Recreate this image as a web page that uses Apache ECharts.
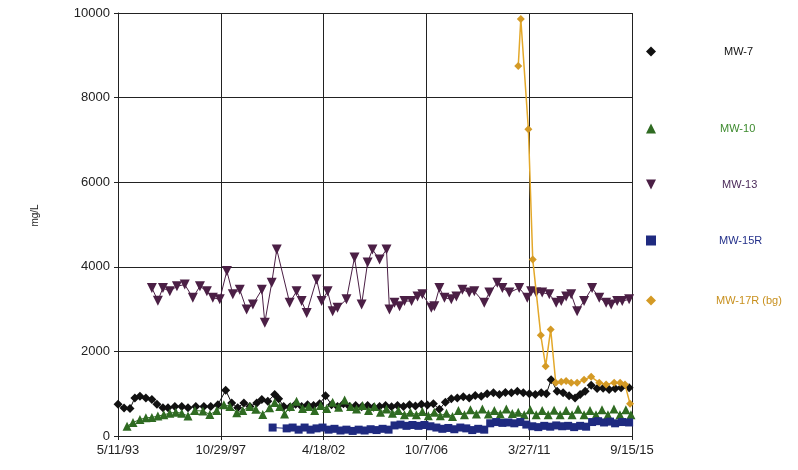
<!DOCTYPE html>
<html>
<head>
<meta charset="utf-8">
<script src="https://cdn.jsdelivr.net/npm/echarts@6/dist/echarts.min.js"></script>
<style>html,body{margin:0;padding:0;background:#fff;}#c{width:798px;height:470px;}</style>
</head>
<body>
<div id="c"></div>
<script>
// X tick labels (dates) and y axis
const tickLabels = ['5/11/93', '10/29/97', '4/18/02', '10/7/06', '3/27/11', '9/15/15'];
const xStartYear = 1993.357;   // 5/11/93
const xEndYear = 2015.705;     // 9/15/15
const seriesNames = ['MW-7', 'MW-10', 'MW-13', 'MW-15R', 'MW-17R (bg)'];

// MW-7 : decimal year / mg/L
const mw7Years = [1993.36,1993.62,1993.88,1994.09,1994.31,1994.57,1994.83,1995.05,1995.31,1995.53,1995.83,1996.13,1996.40,1996.74,1997.09,1997.39,1997.70,1998.04,1998.30,1998.56,1998.83,1999.09,1999.39,1999.61,1999.87,2000.17,2000.34,2000.56,2000.82,2001.08,2001.34,2001.60,2001.86,2002.12,2002.38,2002.64,2002.90,2003.16,2003.42,2003.69,2003.95,2004.21,2004.47,2004.73,2004.99,2005.25,2005.51,2005.77,2006.03,2006.29,2006.55,2006.81,2007.07,2007.33,2007.59,2007.85,2008.11,2008.37,2008.63,2008.89,2009.15,2009.41,2009.68,2009.94,2010.20,2010.46,2010.72,2010.98,2011.24,2011.50,2011.76,2011.98,2012.19,2012.45,2012.71,2012.97,2013.23,2013.45,2013.67,2013.93,2014.19,2014.45,2014.71,2014.97,2015.23,2015.58];
const mw7Values = [750,660,650,900,940,900,860,750,670,670,700,700,670,700,700,700,740,1080,780,670,780,700,780,860,820,980,880,700,680,750,700,740,720,760,950,740,700,760,700,720,690,720,680,700,720,690,720,700,740,710,750,730,760,630,800,880,900,930,900,960,940,1000,1020,980,1030,1020,1060,1020,1000,980,1020,1000,1330,1060,1020,950,900,980,1060,1200,1120,1130,1100,1120,1140,1140];

// MW-10
const mw10Years = [1993.75,1994.01,1994.31,1994.57,1994.83,1995.09,1995.35,1995.61,1995.87,1996.13,1996.40,1996.70,1997.05,1997.35,1997.65,1997.96,1998.22,1998.52,1998.78,1999.09,1999.35,1999.65,1999.95,2000.17,2000.39,2000.60,2000.86,2001.12,2001.38,2001.65,2001.91,2002.17,2002.43,2002.69,2002.95,2003.21,2003.47,2003.73,2003.99,2004.25,2004.51,2004.77,2005.03,2005.29,2005.55,2005.81,2006.07,2006.33,2006.59,2006.85,2007.11,2007.37,2007.64,2007.90,2008.16,2008.42,2008.68,2008.94,2009.20,2009.46,2009.72,2009.98,2010.24,2010.50,2010.76,2011.02,2011.28,2011.54,2011.80,2012.06,2012.32,2012.58,2012.84,2013.10,2013.36,2013.62,2013.88,2014.14,2014.40,2014.66,2014.92,2015.18,2015.44,2015.66];
const mw10Values = [230,320,390,430,440,470,500,540,560,540,470,600,590,510,600,740,700,550,600,700,630,510,670,790,700,520,700,820,650,700,600,720,650,800,680,850,700,640,720,600,700,560,640,540,600,500,560,500,580,480,560,480,540,460,600,500,620,520,640,520,600,520,640,530,560,500,620,500,600,500,610,500,600,500,630,500,600,500,620,500,640,500,620,500];

// MW-13
const mw13Years = [1994.83,1995.09,1995.31,1995.61,1995.92,1996.26,1996.61,1996.92,1997.22,1997.48,1997.78,1998.09,1998.35,1998.65,1998.95,1999.22,1999.61,1999.74,2000.04,2000.26,2000.82,2001.12,2001.34,2001.56,2001.99,2002.21,2002.47,2002.69,2002.90,2003.29,2003.64,2003.95,2004.21,2004.42,2004.73,2005.03,2005.16,2005.38,2005.60,2005.81,2006.12,2006.38,2006.59,2006.98,2007.11,2007.33,2007.55,2007.85,2008.07,2008.33,2008.63,2008.85,2009.28,2009.50,2009.85,2010.07,2010.37,2010.80,2011.15,2011.32,2011.54,2011.80,2012.11,2012.41,2012.63,2012.84,2013.06,2013.32,2013.62,2013.97,2014.28,2014.58,2014.80,2015.06,2015.28,2015.58];
const mw13Values = [3500,3200,3500,3420,3540,3580,3270,3540,3420,3270,3230,3900,3350,3460,2990,3110,3460,2680,3620,4410,3150,3420,3190,2910,3700,3190,3420,2950,3030,3230,4220,3110,4100,4410,4170,4410,2990,3150,3070,3190,3190,3300,3350,3030,3070,3500,3270,3230,3300,3460,3390,3420,3150,3390,3620,3500,3390,3500,3270,3420,3390,3390,3350,3150,3190,3300,3350,2950,3190,3500,3270,3150,3110,3190,3190,3230];

// MW-15R
const mw15Years = [2000.08,2000.69,2000.95,2001.21,2001.47,2001.73,2001.99,2002.25,2002.51,2002.77,2003.03,2003.29,2003.56,2003.82,2004.08,2004.34,2004.60,2004.86,2005.12,2005.38,2005.64,2005.90,2006.16,2006.42,2006.68,2006.94,2007.20,2007.46,2007.72,2007.98,2008.24,2008.50,2008.76,2009.02,2009.28,2009.54,2009.80,2010.07,2010.33,2010.59,2010.85,2011.11,2011.37,2011.63,2011.89,2012.15,2012.41,2012.67,2012.93,2013.19,2013.45,2013.71,2013.97,2014.23,2014.49,2014.75,2014.97,2015.27,2015.58];
const mw15Values = [200,180,200,150,200,150,180,200,150,170,130,150,120,150,130,160,140,170,150,250,270,240,260,240,260,230,200,170,190,160,200,180,140,170,150,300,330,310,320,300,330,270,230,210,240,220,250,230,240,210,240,220,330,350,320,340,300,330,320];

// MW-17R (bg)
const mw17Years = [2010.76,2010.87,2011.20,2011.39,2011.74,2011.95,2012.17,2012.39,2012.63,2012.84,2013.06,2013.32,2013.62,2013.93,2014.28,2014.58,2014.93,2015.19,2015.40,2015.62];
const mw17Values = [8750,9860,7250,4170,2380,1650,2520,1260,1280,1300,1260,1260,1330,1400,1260,1220,1260,1260,1220,760];

const xSpan = 22.348;
const xInterval = 4.4696;

function pts(years, vals) {
  return years.map((y, i) => [y - xStartYear, vals[i]]);
}

const colors = ['#111111', '#2f6b22', '#4b1f45', '#1f2a80', '#d49a25'];
const textColors = ['#111111', '#3d8a2e', '#4b2a5a', '#23308a', '#c8901e'];
const symbols = ['diamond', 'triangle', 'path://M0,0L10,0L5,10Z', 'rect', 'diamond'];
const symSizes = [9, 9, 10, 8, 8];
const data = [pts(mw7Years, mw7Values), pts(mw10Years, mw10Values), pts(mw13Years, mw13Values), pts(mw15Years, mw15Values), pts(mw17Years, mw17Values)];
const lineColors = ['#111111', '#2f6b22', '#4b1f45', '#1f2a80', '#e3a82a'];
const order = [1, 3, 0, 2, 4];

const legendTops = [41, 118, 174, 230, 290];
const legendPads = [63, 59, 61, 58, 55];

const chart = echarts.init(document.getElementById('c'), null, {renderer: 'canvas'});
chart.setOption({
  animation: false,
  backgroundColor: '#ffffff',
  grid: {left: 118, right: 166, top: 13, bottom: 34},
  xAxis: {
    type: 'value', min: 0, max: xSpan, interval: xInterval,
    axisLine: {show: true, lineStyle: {color: '#222', width: 1}},
    axisTick: {show: true, length: 4, lineStyle: {color: '#222'}},
    splitLine: {show: true, lineStyle: {color: '#222', width: 1}},
    axisLabel: {
      color: '#222', fontSize: 13, fontFamily: 'Liberation Sans, Arial', margin: 8,
      formatter: v => { const i = Math.round(v / xInterval); return tickLabels[i] || ''; }
    }
  },
  yAxis: {
    type: 'value', min: 0, max: 10000, interval: 2000,
    name: 'mg/L', nameLocation: 'middle', nameGap: 78, nameRotate: 90,
    nameTextStyle: {color: '#222', fontSize: 10, fontFamily: 'Liberation Sans, Arial', padding: [0, 0, 0, 18]},
    axisLine: {show: true, lineStyle: {color: '#222', width: 1}},
    axisTick: {show: true, length: 4, lineStyle: {color: '#222'}},
    splitLine: {show: true, lineStyle: {color: '#222', width: 1}},
    axisLabel: {color: '#222', fontSize: 13, fontFamily: 'Liberation Sans, Arial', margin: 8,
      formatter: v => String(v)}
  },
  legend: seriesNames.map((n, i) => ({
    data: [{name: n, icon: symbols[i]}],
    left: 641, top: legendTops[i],
    itemWidth: 10, itemHeight: 10,
    selectedMode: false,
    textStyle: {color: textColors[i], fontSize: 11, fontFamily: 'Liberation Sans, Arial', padding: [0, 0, 0, legendPads[i]]}
  })),
  series: order.map(i => ({
    name: seriesNames[i], type: 'line', data: data[i],
    symbol: symbols[i], symbolSize: symSizes[i], showAllSymbol: true,
    itemStyle: {color: colors[i]},
    lineStyle: {color: lineColors[i], width: i === 4 ? 1.5 : 1},
    z: 3 + i
  }))
});
</script>
</body>
</html>
